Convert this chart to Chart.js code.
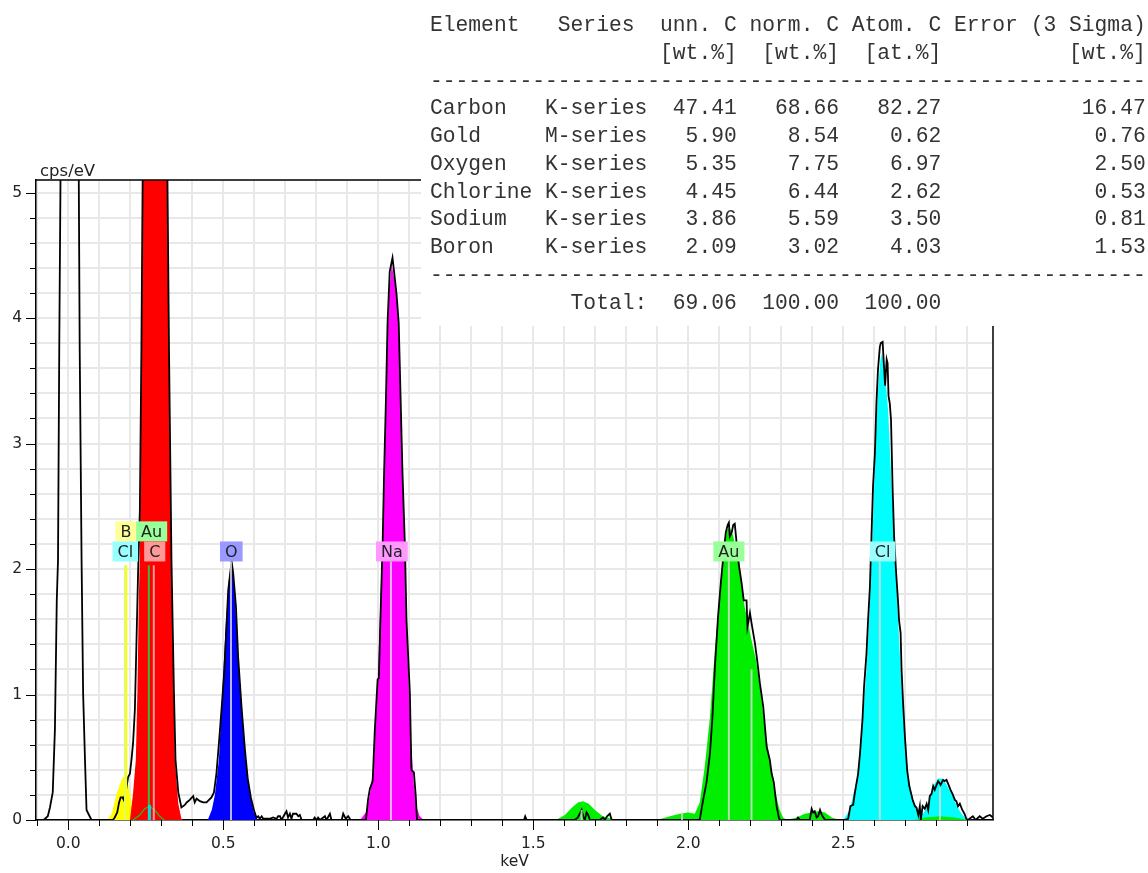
<!DOCTYPE html>
<html>
<head>
<meta charset="utf-8">
<script src="https://cdn.jsdelivr.net/npm/chart.js@4.4.1/dist/chart.umd.min.js"></script>
<style>
html, body { margin: 0; padding: 0; background: #fff; }
canvas { display: block; }
</style>
</head>
<body>
<canvas id="spec" width="1148" height="873"></canvas>
<script>
// measured spectrum (black line), keV / cps per eV
const specKeV = [-0.105,-0.079,-0.066,-0.059,-0.050,-0.043,-0.037,-0.033,-0.029,-0.025,0.005,0.034,0.037,0.043,0.048,0.054,0.059,0.067,0.075,
  0.144,0.150,0.158,0.164,0.169,0.175,0.179,0.188,0.193,0.199,0.204,0.209,0.215,0.220,0.225,0.231,0.236,0.240,0.279,0.320,0.325,0.333,0.341,0.346,0.355,0.365,0.376,0.382,0.392,0.403,0.408,0.414,0.425,0.435,0.446,0.462,0.470,
  0.478,0.487,0.495,0.503,0.511,0.516,0.527,0.532,0.541,0.548,0.559,0.570,0.579,0.589,0.599,0.607,
  0.613,0.618,0.624,0.629,0.640,0.650,0.661,0.672,0.677,0.683,0.688,0.699,0.704,0.709,0.715,0.720,0.725,0.736,0.742,0.747,0.753,0.790,0.795,0.801,0.806,0.812,0.828,0.833,0.844,0.849,0.882,0.887,0.895,0.903,0.911,0.960,
  0.962,0.967,0.973,0.982,0.989,0.998,1.002,1.007,1.014,1.019,1.025,1.030,1.037,1.046,1.051,1.059,1.066,1.072,1.078,1.086,1.091,1.102,1.107,1.115,1.121,1.125,
  1.470,1.474,1.479,1.634,1.644,1.656,1.661,1.666,1.672,1.677,1.683,1.715,1.725,1.731,1.738,1.747,1.753,2.037,
  2.048,2.059,2.070,2.078,2.086,2.096,2.105,2.115,2.121,2.127,2.131,2.134,2.140,2.145,2.150,2.154,2.158,2.164,2.172,2.179,2.188,2.191,2.199,2.204,2.215,2.222,2.231,2.242,2.253,2.263,2.269,2.276,2.285,2.293,2.298,
  2.349,2.354,2.360,2.392,2.398,2.403,2.408,2.414,2.419,2.425,2.431,2.441,2.505,
  2.516,2.523,2.532,2.537,2.548,2.554,2.562,2.567,2.575,2.580,2.586,2.591,2.596,2.602,2.607,2.612,2.618,2.621,2.627,2.629,2.632,2.635,2.640,2.643,2.646,2.650,2.654,2.659,2.664,2.670,2.677,2.680,2.685,2.688,2.693,2.699,2.706,2.713,2.724,2.731,2.736,2.742,2.747,2.750,2.756,2.763,2.769,2.774,2.779,2.785,2.790,2.795,2.801,2.806,2.814,2.822,2.827,2.833,2.838,2.846,2.852,2.860,2.865,2.870,2.876,2.884,2.891,2.897,2.902,2.918,2.927,2.940,2.950,2.962,2.973,2.983];
const specCps = [0,0,0.03,0.10,0.22,0.72,1.75,2.07,3.75,5.10,14.0,5.10,3.75,2.07,1.01,0.48,0.08,0.04,0,
  0,0.02,0.06,0.14,0.18,0.18,0.16,0.26,0.34,0.37,0.48,0.61,0.88,1.41,1.94,2.47,3.75,5.10,20.0,5.10,3.75,2.07,1.01,0.48,0.22,0.10,0.12,0.14,0.16,0.19,0.14,0.17,0.15,0.14,0.14,0.18,0.22,
  0.37,0.64,0.90,1.17,1.57,1.83,2.06,1.97,1.70,1.30,0.90,0.56,0.33,0.18,0.08,0.02,
  0.03,0.01,0.03,0.01,0.01,0.01,0.02,0.01,0.03,0.03,0,0.05,0.07,0.02,0.05,0.01,0.05,0.05,0.03,0.04,0,0,0.02,0,0.02,0,0.03,0,0.05,0,0,0.05,0.01,0.03,0,0,
  0.04,0.16,0.25,0.31,0.72,1.12,1.13,1.60,2.19,2.78,3.37,3.96,4.37,4.48,4.37,4.19,3.96,3.37,2.78,2.19,1.60,1.01,0.40,0.38,0.19,0,
  0,0.03,0,0,0.02,0.08,0.03,0,0.06,0.04,0,0,0.02,0,0.03,0.05,0,0,
  0.16,0.30,0.53,0.82,1.22,1.62,1.89,2.15,2.29,2.35,2.37,2.26,2.29,2.35,2.36,2.26,2.15,2.02,1.89,1.75,1.75,1.54,1.65,1.57,1.41,1.28,1.09,0.90,0.58,0.48,0.37,0.30,0.11,0.01,0,
  0,0.02,0,0,0.09,0.06,0.07,0.02,0.03,0.08,0.04,0,0,
  0.01,0.11,0.12,0.21,0.37,0.53,0.80,1.06,1.33,1.59,1.86,2.26,2.66,2.92,3.32,3.59,3.77,3.80,3.81,3.72,3.59,3.46,3.67,3.64,3.38,3.32,3.19,2.66,2.26,1.99,1.73,1.59,1.49,1.20,0.93,0.66,0.40,0.27,0.16,0.11,0.10,0.04,0.11,0,0.11,0.09,0.13,0.08,0.19,0.21,0.27,0.24,0.28,0.31,0.28,0.32,0.31,0.32,0.29,0.24,0.21,0.16,0.15,0.11,0.13,0.08,0.05,0.01,0,0.03,0,0.03,0.01,0.03,0.04,0.02];

// fitted element peaks
const boronKeV = [0.125,0.140,0.156,0.172,0.183,0.188,0.199,0.209,0.220];
const boronCps = [0,0.05,0.21,0.32,0.36,0.35,0.21,0.05,0];
const carbonKeV = [0.199,0.209,0.218,0.223,0.228,0.231,0.236,0.240,0.279,0.320,0.325,0.333,0.338,0.344,0.355,0.365,0.370];
const carbonCps = [0,0.21,0.48,1.01,1.81,2.07,3.75,5.10,20.0,5.10,3.75,2.07,1.28,0.48,0.13,0.01,0];
const oxygenKeV = [0.450,0.463,0.473,0.486,0.495,0.508,0.518,0.526,0.534,0.547,0.560,0.573,0.586,0.599,0.612];
const oxygenCps = [0,0.08,0.20,0.48,0.92,1.56,1.91,2.05,1.91,1.36,0.88,0.48,0.20,0.06,0];
const sodiumKeV = [0.941,0.960,0.973,0.983,0.996,1.005,1.015,1.024,1.034,1.043,1.057,1.066,1.076,1.086,1.095,1.105,1.115,1.124,1.134,1.147];
const sodiumCps = [0,0.06,0.20,0.40,0.96,1.59,2.39,3.35,4.15,4.43,4.23,3.91,2.95,2.07,1.28,0.64,0.28,0.10,0.03,0];
const goldKeV = [1.573,1.602,1.625,1.644,1.661,1.679,1.699,1.724,1.753,1.783,
  1.899,1.941,1.973,1.999,2.021,2.037,2.053,2.070,2.086,2.102,2.115,2.125,2.134,2.144,2.150,2.166,2.182,2.199,2.218,2.231,2.247,2.263,2.279,2.295,2.306,2.318,
  2.350,2.376,2.399,2.418,2.441,2.463,2.489,
  2.731,2.763,2.812,2.860,2.902];
const goldCps = [0,0.04,0.10,0.14,0.15,0.13,0.08,0.03,0.01,0,
  0,0.03,0.05,0.06,0.05,0.14,0.42,0.82,1.36,1.81,2.15,2.31,2.33,2.27,2.21,1.97,1.70,1.49,1.28,1.06,0.74,0.48,0.24,0.08,0.02,0,
  0.02,0.05,0.06,0.07,0.06,0.02,0,
  0,0.02,0.03,0.02,0];
const goldLowKeV = [0.209,0.231,0.247,0.262,0.278,0.295,0.310];
const goldLowCps = [0,0.04,0.09,0.11,0.08,0.03,0];
const chlorineKeV = [2.500,2.521,2.543,2.559,2.575,2.586,2.596,2.605,2.613,2.620,2.625,2.634,2.645,2.656,2.667,2.677,2.688,2.699,2.710,2.726,2.742,2.758,2.774,2.790,2.806,2.817,2.831,2.849,2.865,2.881,2.897,2.913];
const chlorineCps = [0,0.08,0.32,0.66,1.20,1.73,2.39,3.06,3.46,3.67,3.72,3.59,3.25,2.66,2.13,1.59,1.06,0.66,0.34,0.16,0.08,0.05,0.13,0.27,0.33,0.33,0.29,0.21,0.12,0.05,0.01,0];

// line markers
const markerKeV = [0.183,0.186,0.260,0.276,0.262,0.525,1.041,1.656,1.980,2.131,2.204,2.618,2.812];
const markerTop = [2.03,2.03,2.03,2.03,0.12,2.06,2.06,0.08,0.06,2.06,1.20,2.06,0.26];
const markerColor = ['#aaffff','#ffff00','#3cb83c','#ff9a9a','#00dede',
  'rgba(215,215,215,0.85)','rgba(215,215,215,0.85)','rgba(215,215,215,0.85)','rgba(215,215,215,0.85)',
  'rgba(215,215,215,0.85)','rgba(215,215,215,0.85)','rgba(215,215,215,0.85)','rgba(215,215,215,0.85)'];

// element labels
const labelText = ['B','Au','Cl','C','O','Na','Au','Cl'];
const labelKeV = [0.186,0.269,0.184,0.279,0.526,1.044,2.131,2.627];
const labelCps = [2.30,2.30,2.14,2.14,2.14,2.14,2.14,2.14];
const labelColor = ['#ffff99','#99ff99','#99ffff','#ff9999','#9999ff','#ff99ff','#99ff99','#99ffff'];

// tick labels
const xTickLabels = ['0.0','0.5','1.0','1.5','2.0','2.5'];
const yTickLabels = ['0','1','2','3','4','5'];

// quantification table
const elemNames = ['Carbon','Gold','Oxygen','Chlorine','Sodium','Boron'];
const elemSeries = ['K-series','M-series','K-series','K-series','K-series','K-series'];
const unnC = [47.41,5.90,5.35,4.45,3.86,2.09];
const normC = [68.66,8.54,7.75,6.44,5.59,3.02];
const atomC = [82.27,0.62,6.97,2.62,3.50,4.03];
const errC = [16.47,0.76,2.50,0.53,0.81,1.53];
const totals = [69.06,100.00,100.00];

const xy = (xs, ys) => xs.map((v, i) => ({x: v, y: ys[i]}));

const tableLines = [
  'Element   Series  unn. C norm. C Atom. C Error (3 Sigma)',
  ' '.repeat(18) + '[wt.%]  [wt.%]  [at.%]' + ' '.repeat(10) + '[wt.%]',
  '-'.repeat(56)
];
elemNames.forEach((n, i) => {
  tableLines.push(n.padEnd(9) + elemSeries[i].padEnd(8) + unnC[i].toFixed(2).padStart(7) +
    normC[i].toFixed(2).padStart(8) + atomC[i].toFixed(2).padStart(8) + errC[i].toFixed(2).padStart(16));
});
tableLines.push('-'.repeat(56));
tableLines.push(' '.repeat(11) + 'Total:' + totals[0].toFixed(2).padStart(7) +
  totals[1].toFixed(2).padStart(8) + totals[2].toFixed(2).padStart(8));

const xTickVals = [];
for (let i = -1; i <= 29; i++) xTickVals.push(i / 10);
const yTickVals = [];
for (let i = 0; i <= 25; i++) yTickVals.push(i / 5);

const edsDecor = {
  id: 'edsDecor',
  afterDatasetsDraw(chart) {
    const {ctx, scales: {x, y}} = chart;
    ctx.save();
    for (let i = 0; i < markerKeV.length; i++) {
      const px = x.getPixelForValue(markerKeV[i]);
      ctx.strokeStyle = markerColor[i];
      ctx.lineWidth = i === 1 ? 2.5 : (i === 4 ? 3 : 2);
      ctx.beginPath();
      ctx.moveTo(px, y.getPixelForValue(0));
      ctx.lineTo(px, y.getPixelForValue(markerTop[i]));
      ctx.stroke();
    }
    ctx.font = '16px "DejaVu Sans"';
    ctx.textAlign = 'center';
    ctx.textBaseline = 'middle';
    for (let i = 0; i < labelText.length; i++) {
      const cx = x.getPixelForValue(labelKeV[i]);
      const cy = y.getPixelForValue(labelCps[i]);
      const w = ctx.measureText(labelText[i]).width + 10;
      ctx.fillStyle = labelColor[i];
      ctx.fillRect(cx - w / 2, cy - 10, w, 20);
      ctx.fillStyle = '#222';
      ctx.fillText(labelText[i], cx, cy + 1);
    }
    ctx.restore();
  },
  afterDraw(chart) {
    const {ctx, chartArea: a, scales: {x, y}} = chart;
    ctx.save();
    ctx.strokeStyle = '#000';
    ctx.lineWidth = 1;
    x.ticks.forEach(t => {
      const px = Math.round(x.getPixelForValue(t.value)) + 0.5;
      ctx.beginPath();
      ctx.moveTo(px, a.bottom);
      ctx.lineTo(px, a.bottom + (t.label ? 10 : 6));
      ctx.stroke();
    });
    y.ticks.forEach(t => {
      const py = Math.round(y.getPixelForValue(t.value)) + 0.5;
      ctx.beginPath();
      ctx.moveTo(a.left, py);
      ctx.lineTo(a.left - (t.label ? 10 : 6), py);
      ctx.stroke();
    });
    ctx.lineWidth = 1.5;
    ctx.beginPath();
    ctx.moveTo(a.left, a.top);
    ctx.lineTo(a.right, a.top);
    ctx.lineTo(a.right, a.bottom);
    ctx.stroke();

    ctx.fillStyle = '#222';
    ctx.font = '16.5px "DejaVu Sans"';
    ctx.textAlign = 'left';
    ctx.textBaseline = 'alphabetic';
    ctx.fillText('cps/eV', 40, 176);
    ctx.font = '15.5px "DejaVu Sans"';
    ctx.textAlign = 'center';
    ctx.textBaseline = 'middle';
    ctx.fillText('keV', (a.left + a.right) / 2, 862);

    // quantification table on white
    ctx.fillStyle = '#fff';
    ctx.fillRect(421, 0, 727, 326);
    ctx.fillStyle = '#333';
    ctx.font = '21.3px "Liberation Mono"';
    ctx.textAlign = 'left';
    ctx.textBaseline = 'middle';
    tableLines.forEach((s, i) => ctx.fillText(s, 430, 25.5 + i * 27.75));
    ctx.restore();
  }
};

Chart.defaults.font.family = '"DejaVu Sans"';

new Chart(document.getElementById('spec'), {
  type: 'line',
  data: {
    datasets: [
      {label: 'spectrum', data: xy(specKeV, specCps), borderColor: '#000', borderWidth: 1.8, fill: false},
      {label: 'Au low', data: xy(goldLowKeV, goldLowCps), borderColor: '#22bb22', borderWidth: 1.2, fill: false},
      {label: 'C', data: xy(carbonKeV, carbonCps), borderWidth: 0, borderColor: 'rgba(0,0,0,0)', backgroundColor: '#ff0000', fill: 'origin'},
      {label: 'B', data: xy(boronKeV, boronCps), borderWidth: 0, borderColor: 'rgba(0,0,0,0)', backgroundColor: '#ffff00', fill: 'origin'},
      {label: 'O', data: xy(oxygenKeV, oxygenCps), borderWidth: 0, borderColor: 'rgba(0,0,0,0)', backgroundColor: '#0000ff', fill: 'origin'},
      {label: 'Na', data: xy(sodiumKeV, sodiumCps), borderWidth: 0, borderColor: 'rgba(0,0,0,0)', backgroundColor: '#ff00ff', fill: 'origin'},
      {label: 'Au', data: xy(goldKeV, goldCps), borderWidth: 0, borderColor: 'rgba(0,0,0,0)', backgroundColor: '#00ee00', fill: 'origin'},
      {label: 'Cl', data: xy(chlorineKeV, chlorineCps), borderWidth: 0, borderColor: 'rgba(0,0,0,0)', backgroundColor: '#00ffff', fill: 'origin'}
    ]
  },
  options: {
    responsive: false,
    animation: false,
    devicePixelRatio: 1,
    layout: {padding: {left: 0, top: 180, right: 155, bottom: 0}},
    elements: {point: {radius: 0}, line: {tension: 0}},
    plugins: {legend: {display: false}, tooltip: {enabled: false}},
    scales: {
      x: {
        type: 'linear',
        min: -0.104,
        max: 2.983,
        afterFit: s => { s.height = 53; },
        afterBuildTicks: s => { s.ticks = xTickVals.map(v => ({value: v})); },
        grid: {color: '#e8e8e8', lineWidth: 2, drawTicks: false},
        border: {color: '#000', width: 1.5},
        ticks: {
          autoSkip: false, maxRotation: 0, padding: 15, color: '#222', font: {size: 15.5},
          callback: v => { const s = v.toFixed(1); return xTickLabels.includes(s) ? s : ''; }
        }
      },
      y: {
        type: 'linear',
        min: 0,
        max: 5.1,
        afterFit: s => { s.width = 36; },
        afterBuildTicks: s => { s.ticks = yTickVals.map(v => ({value: v})); },
        grid: {color: '#e8e8e8', lineWidth: 2, drawTicks: false},
        border: {color: '#000', width: 1.5},
        ticks: {
          autoSkip: false, padding: 14, color: '#222', font: {size: 15.5},
          callback: v => { const s = String(v); return yTickLabels.includes(s) ? s : ''; }
        }
      }
    }
  },
  plugins: [edsDecor]
});
</script>
</body>
</html>
